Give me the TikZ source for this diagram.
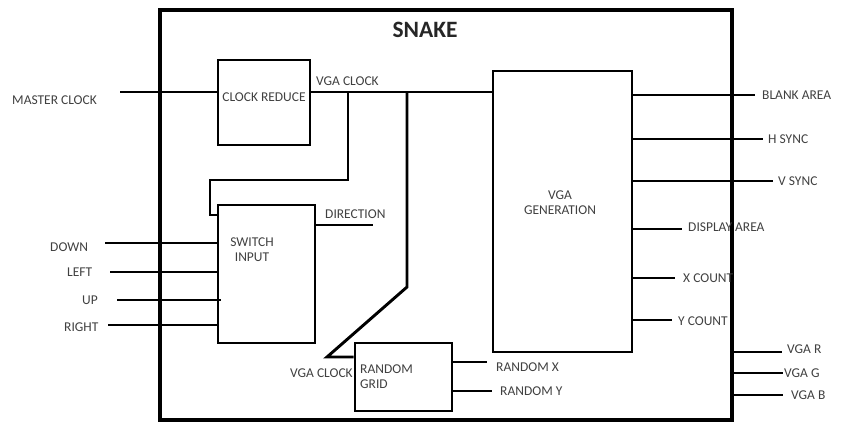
\documentclass[tikz,border=0pt]{standalone}
\usepackage{fontspec}
\setmainfont{Carlito}
\usepackage{tikz}
\usetikzlibrary{positioning,calc}

\begin{document}
\begin{tikzpicture}[
	x=0.03cm, y=-0.03cm,
	blk/.style={draw=black, line width=2.5pt, inner sep=0pt},
	wire/.style={line width=2.5pt},
	lbl/.style={inner sep=0pt, anchor=west, font=\fontsize{11.5}{13}\selectfont, text=black!75}
	]
	\useasboundingbox (0,0) rectangle (850,423);
	% blocks
	\node[blk, line width=2.9pt, minimum width=17.16cm, minimum height=12.3cm] (snake) at (446,215) {};
	\node[font=\fontsize{20}{22}\selectfont\bfseries, text=black!85] (title) at (425,30) {SNAKE};
	\node[blk, minimum width=2.76cm, minimum height=2.55cm] (cr) at (264,102.5) {};
	\node[lbl, anchor=center] (crtxt) at (264,97) {CLOCK REDUCE};
	\node[blk, minimum width=2.91cm, minimum height=4.14cm] (sw) at (266.5,274) {};
	\node[lbl, anchor=center, align=center] (swtxt) at (252,250) {SWITCH\\INPUT};
	\node[blk, minimum width=2.91cm, minimum height=2.04cm] (rg) at (403.5,377) {};
	\node[lbl, align=left] (rgtxt) at (360,377) {RANDOM\\GRID};
	\node[blk, minimum width=4.17cm, minimum height=8.43cm] (vg) at (562.5,211.5) {};
	\node[lbl, anchor=center, align=center] (vgtxt) at (560,203) {VGA\\GENERATION};

	% clock path
	\coordinate (mc) at (120,92);
	\coordinate (tap1) at (348,92);
	\coordinate (tap2) at (407,92);
	\node[lbl] (mclbl) at (12,100) {MASTER CLOCK};
	\draw[wire] (mc) -- (cr.west |- mc);
	\draw[wire] (cr.east |- mc) -- (vg.west |- mc);
	\node[lbl] (vclk1) at (316,81) {VGA CLOCK};
	\draw[wire] (tap1) |- (210,180) |- (sw.west |- 0,215);
	\draw[wire] (tap2) -- (407,287) -- (327,357) -- (rg.west |- 0,357);
	\node[lbl] (vclk2) at (290,373) {VGA CLOCK};

	% switch inputs
	\coordinate (dn) at (105,243);
	\coordinate (lf) at (110,272);
	\coordinate (up) at (117,300);
	\coordinate (rt) at (108,325);
	\draw[wire] (dn) -- (sw.west |- dn);
	\draw[wire] (lf) -- (sw.west |- lf);
	\draw[wire] (up) -- ($(sw.west |- up)+(4,0)$);
	\draw[wire] (rt) -- (sw.west |- rt);
	\node[lbl] (dnlbl) at (50,247) {DOWN};
	\node[lbl] (lflbl) at (67,272) {LEFT};
	\node[lbl] (uplbl) at (82,300) {UP};
	\node[lbl] (rtlbl) at (64,327) {RIGHT};

	% direction
	\coordinate (dir) at (373,225);
	\draw[wire] (sw.east |- dir) -- (dir);
	\node[lbl] (dirlbl) at (325,214) {DIRECTION};

	% random outputs
	\coordinate (rx) at (487,362);
	\coordinate (ry) at (492,391);
	\draw[wire] (rg.east |- rx) -- (rx);
	\draw[wire] (rg.east |- ry) -- (ry);
	\node[lbl] (rxlbl) at (496,367) {RANDOM X};
	\node[lbl] (rylbl) at (500,391) {RANDOM Y};

	% vga generation outputs
	\coordinate (ba) at (755,95);
	\coordinate (hs) at (763,139);
	\coordinate (vs) at (773,181);
	\coordinate (da) at (682,229);
	\coordinate (xc) at (675,278);
	\coordinate (yc) at (672,320);
	\foreach \p in {ba,hs,vs,da,xc,yc}
		\draw[wire] (vg.east |- \p) -- (\p);
	\node[lbl] (balbl) at (762,95) {BLANK AREA};
	\node[lbl] (hslbl) at (768,139) {H SYNC};
	\node[lbl] (vslbl) at (778,181) {V SYNC};
	\node[lbl] (dalbl) at (688,227) {DISPLAY AREA};
	\node[lbl] (xclbl) at (683,278) {X COUNT};
	\node[lbl] (yclbl) at (678,321) {Y COUNT};

	% colour outputs
	\coordinate (vr) at (782,352);
	\coordinate (vgg) at (783,373);
	\coordinate (vb) at (783,395);
	\foreach \p in {vr,vgg,vb}
		\draw[wire] (snake.east |- \p) -- (\p);
	\node[lbl] (vrlbl) at (787,349) {VGA R};
	\node[lbl] (vglbl) at (784,373) {VGA G};
	\node[lbl] (vblbl) at (791,395) {VGA B};
\end{tikzpicture}
\end{document}
